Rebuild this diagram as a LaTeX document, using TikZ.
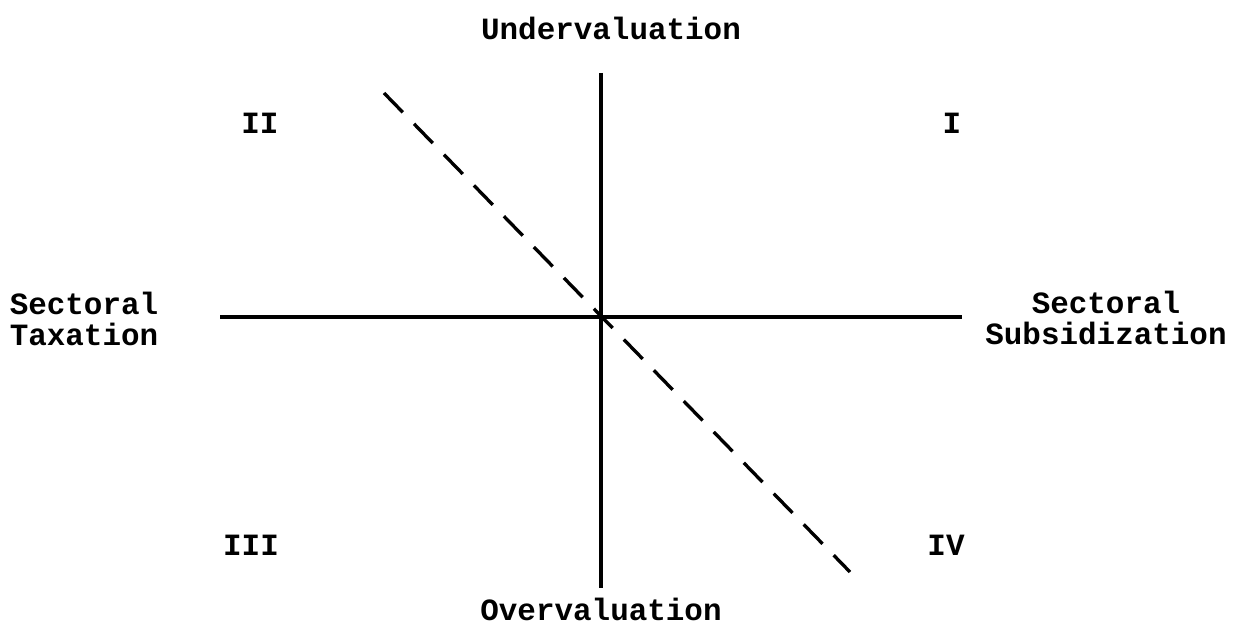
\documentclass[tikz,border=0pt]{standalone}
\usepackage{fontspec}
\setmainfont{Liberation Mono}
\usetikzlibrary{positioning}

\begin{document}
\begin{tikzpicture}[
    x=0.02cm, y=-0.02cm,
    lbl/.style={font=\fontsize{17.6}{17.2}\selectfont\bfseries, inner sep=0pt, align=center},
    axis/.style={line width=1.9pt},
    diag/.style={line width=1.9pt, dash pattern=on 0.54cm off 0.32cm}
]
    \useasboundingbox (0,0) rectangle (1242,624);

    % Axes
    \coordinate (o) at (601,317);
    \coordinate (left) at (220,317);
    \coordinate (right) at (962,317);
    \coordinate (top) at (601,73);
    \coordinate (bottom) at (601,588);
    \draw[axis] (left) -- (right);
    \draw[axis] (top) -- (bottom);

    % Dashed line
    \coordinate (dtop) at (384,93);
    \coordinate (dbot) at (850,572);
    \draw[diag] (dtop) -- (dbot);

    % Axis labels
    \node[lbl] (under) at (611,28) {Undervaluation};
    \node[lbl] (over) at (601,609) {Overvaluation};
    \node[lbl] (tax) at (84,319) {Sectoral\\Taxation};
    \node[lbl] (sub) at (1106,318) {Sectoral\\Subsidization};

    % Quadrants
    \node[lbl] (q1) at (952,123) {I};
    \node[lbl] (q2) at (260,123) {II};
    \node[lbl] (q3) at (251,545) {III};
    \node[lbl] (q4) at (946,545) {IV};

\end{tikzpicture}
\end{document}
